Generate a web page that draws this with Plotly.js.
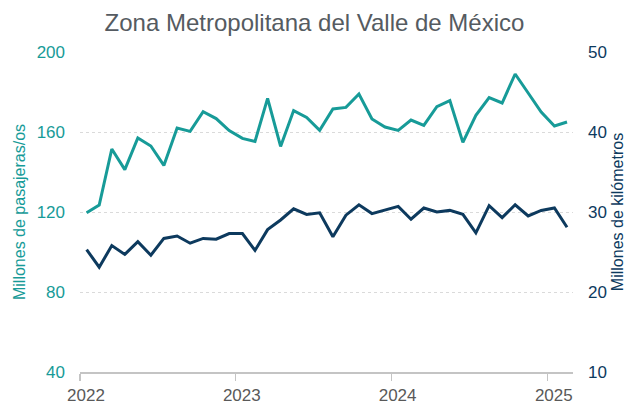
<!DOCTYPE html>
<html>
<head>
<meta charset="utf-8">
<script src="https://cdn.plot.ly/plotly-3.0.1.min.js"></script>
<style>html,body{margin:0;padding:0;background:#fff;}#chart{width:629px;height:407px;}</style>
</head>
<body>
<div id="chart"></div>
<script>
const months = ['2022-01','2022-02','2022-03','2022-04','2022-05','2022-06','2022-07','2022-08','2022-09','2022-10','2022-11','2022-12',
  '2023-01','2023-02','2023-03','2023-04','2023-05','2023-06','2023-07','2023-08','2023-09','2023-10','2023-11','2023-12',
  '2024-01','2024-02','2024-03','2024-04','2024-05','2024-06','2024-07','2024-08','2024-09','2024-10','2024-11','2024-12',
  '2025-01','2025-02'];
const passengers = [119.6,123.5,151.5,141.2,157.0,153.0,143.3,162.0,160.3,170.2,166.7,160.7,
  156.8,155.3,176.8,152.8,170.7,167.3,160.8,171.5,172.3,179.0,166.5,162.5,
  160.8,166.0,163.3,172.7,175.7,154.8,168.3,177.2,174.5,189.0,179.5,170.0,
  163.0,165.0];
const kilometers = [25.3,23.1,25.8,24.7,26.3,24.6,26.7,27.0,26.1,26.7,26.6,27.3,
  27.3,25.2,27.8,29.0,30.4,29.7,29.9,26.9,29.6,30.9,29.8,30.2,
  30.7,29.1,30.5,30.0,30.2,29.7,27.4,30.8,29.3,30.9,29.5,30.2,
  30.5,28.1];
const yearTicks = ['2022-01-01','2023-01-01','2024-01-01','2025-01-01'];
const yearLabels = ['2022','2023','2024','2025'];

const teal = '#179B98';
const navy = '#0D3A5E';
const gray = '#595959';
const font = 'Liberation Sans, Arial, sans-serif';

const traces = [
  {x: months, y: passengers, type: 'scatter', mode: 'lines', xperiod: 'M1', xperiodalignment: 'middle',
   line: {color: teal, width: 3}, yaxis: 'y', hoverinfo: 'skip'},
  {x: months, y: kilometers, type: 'scatter', mode: 'lines', xperiod: 'M1', xperiodalignment: 'middle',
   line: {color: navy, width: 3}, yaxis: 'y2', hoverinfo: 'skip'}
];

const layout = {
  width: 629, height: 407,
  margin: {l: 80, r: 56, t: 52, b: 35},
  paper_bgcolor: '#fff', plot_bgcolor: '#fff',
  showlegend: false,
  font: {family: font, size: 17, color: gray},
  title: {text: 'Zona Metropolitana del Valle de México', font: {family: font, size: 24, color: '#555B61'},
          x: 0.5, xanchor: 'center', y: 0.945, yanchor: 'middle', yref: 'container'},
  xaxis: {type: 'date', range: ['2022-01-01', '2025-03-01'], tickmode: 'array', tickvals: yearTicks, ticktext: yearLabels,
          showgrid: false, zeroline: false, showline: true, linecolor: '#C4C4C4', linewidth: 1.5,
          ticks: 'outside', ticklen: 7, tickwidth: 1.2, tickcolor: '#C4C4C4', ticklabelshift: 6,
          tickfont: {family: font, size: 17, color: gray}, fixedrange: true},
  yaxis: {range: [40, 200], tickmode: 'array', tickvals: [40, 80, 120, 160, 200],
          showgrid: true, gridcolor: '#DADADA', griddash: 'dot', gridwidth: 1, zeroline: false, showline: false,
          ticks: '', ticklabelstandoff: 14, tickfont: {family: font, size: 17, color: teal},
          title: {text: 'Millones de pasajeras/os', font: {family: font, size: 16, color: teal}, standoff: 7},
          automargin: false, fixedrange: true},
  yaxis2: {range: [10, 50], tickmode: 'array', tickvals: [10, 20, 30, 40, 50], overlaying: 'y', side: 'right',
           showgrid: false, zeroline: false, showline: false, ticks: '', ticklabelstandoff: 14,
           tickfont: {family: font, size: 17, color: navy},
           title: {text: 'Millones de kilómetros', font: {family: font, size: 16, color: navy}, standoff: 5},
           automargin: false, fixedrange: true}
};

Plotly.newPlot('chart', traces, layout, {displayModeBar: false, staticPlot: true});
</script>
</body>
</html>
